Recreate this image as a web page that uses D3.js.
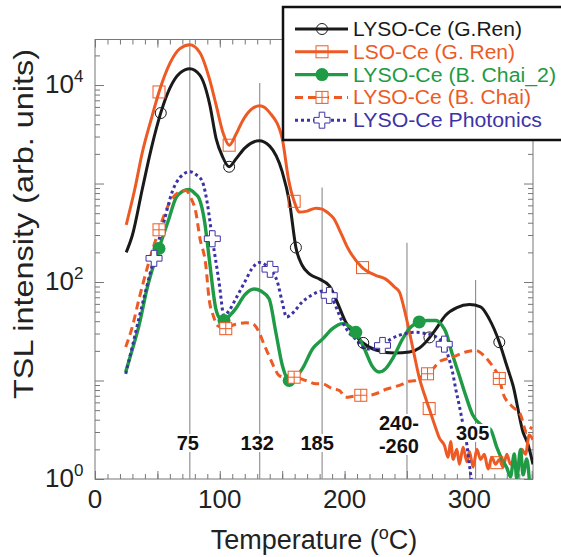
<!DOCTYPE html>
<html>
<head>
<meta charset="utf-8">
<script src="https://cdnjs.cloudflare.com/ajax/libs/d3/7.8.5/d3.min.js"></script>
<style>
  body { margin: 0; background: #fff; }
  svg { display: block; font-family: "Liberation Sans", Arial, Helvetica, sans-serif; }
</style>
</head>
<body>
<div id="chart"></div>
<script>
// TSL glow curves, temperature in °C, intensity in arb. units
const renLysoTemps = [25, 30, 38, 45, 53, 60, 68, 76, 84, 92, 97, 102, 107.5, 113, 120, 131.5, 140, 150, 156, 161, 166, 172, 180, 188, 194, 201, 208, 214, 225, 240, 252, 260, 265, 273, 281, 290, 300, 309, 316, 324, 330, 335, 343, 347, 351]
const renLysoValues = [200, 300, 890, 2240, 5370, 9300, 13200, 14600, 12600, 6300, 2880, 1900, 1480, 1780, 2290, 2720, 2400, 1320, 630, 224, 148, 120, 107, 91, 63, 39, 29.5, 24.5, 20.4, 19, 19.5, 21.4, 24.5, 33, 46, 55, 59, 56, 42, 24.5, 14.1, 8.9, 3.0, 2.24, 1.41]

const renLsoTemps = [25, 32, 38, 45, 51.3, 60, 68, 76, 84, 92, 97, 103, 107.5, 113, 118, 125, 132, 140, 150, 155, 159.6, 164, 170, 177, 182, 187, 191, 197, 202, 214, 225, 233, 240, 244, 248, 252, 256, 260, 264, 268, 272, 276, 280, 283, 285, 287, 290, 292, 295, 298, 300, 303, 306, 309, 312, 315, 318, 321, 324, 327, 330, 333, 336, 339, 342, 345, 348, 351]
const renLsoValues = [380, 890, 2090, 4470, 8510, 16600, 23400, 25700, 21400, 11200, 6310, 3160, 2450, 3160, 4270, 5620, 6170, 5250, 2880, 1120, 660, 513, 525, 562, 550, 500, 447, 316, 229, 141, 117, 107, 89, 79, 52, 31, 17.8, 10.5, 7.2, 5.1, 3.6, 2.6, 2.2, 1.66, 2.4, 1.58, 2.0, 1.41, 2.1, 1.5, 1.9, 1.32, 2.0, 1.58, 1.78, 1.26, 1.66, 1.41, 1.58, 1.32, 1.78, 1.41, 1.58, 1.26, 2.0, 1.78, 2.8, 2.5]

const chai2Temps = [24.6, 30, 35.3, 42, 51.3, 59.3, 64.7, 70, 75.4, 80, 83.4, 88, 91.4, 96.8, 100, 103.4, 108, 112.8, 120, 127.5, 133, 139.5, 144.9, 150.2, 155.6, 160, 166.2, 174.3, 182.3, 190.3, 198.3, 204, 209, 213, 217, 222, 227.7, 233, 238.4, 246.4, 252, 259.8, 266, 273.2, 278, 281.2, 286, 292, 297, 302.6, 310, 316.8, 322, 326, 330, 333, 336, 338, 341, 343, 346, 348]
const chai2Values = [12.2, 20.9, 36.3, 89, 219, 442, 708, 832, 871, 794, 708, 398, 178, 53.7, 42.7, 40.7, 45.7, 53.7, 74, 85, 81, 67.6, 30.9, 14.1, 10, 10.5, 13.2, 20.9, 26.3, 33.6, 37.8, 35.5, 30.9, 25.1, 19.5, 14.1, 12.2, 13.2, 16.6, 26.3, 33.9, 39.3, 40.7, 40.7, 36.3, 30.9, 19.1, 11.2, 7.1, 4.5, 3.5, 3.2, 2.1, 1.6, 1.3, 1.05, 1.8, 1.0, 2.0, 1.1, 1.6, 1.0]

const chaiTemps = [24.6, 30, 35.3, 42, 51.3, 56, 62, 67, 72.7, 77, 80.8, 84, 88.8, 91.4, 95, 98, 104.8, 110, 115.5, 121, 126.1, 131.5, 135, 139.5, 143, 147.6, 153, 159.6, 169, 177, 182.3, 190.3, 195.7, 201, 207, 213, 219, 225, 231, 238.4, 246, 251, 257, 262, 266.5, 271, 275.9, 282, 289.2, 297, 305.3, 311, 316, 320, 324, 327, 334, 341, 346, 350]
const chaiValues = [21.9, 35.5, 67.6, 141, 339, 501, 708, 813, 851, 708, 513, 282, 148, 67.6, 44.7, 36.3, 33.6, 36.3, 37.8, 38.5, 37.8, 30.9, 24, 17.8, 14.1, 11.2, 10.7, 10.8, 10, 9.25, 9.25, 8.24, 7.94, 6.76, 6.92, 7.08, 7.08, 7.33, 7.94, 8.51, 9.12, 9.77, 10, 11, 11.7, 13.2, 15.5, 16.6, 17.8, 19.5, 20.2, 18.2, 15.5, 13.2, 10.5, 7.4, 5.5, 4.5, 2.95, 3.4]

const photonicsTemps = [24.6, 30, 35, 41, 47.3, 55, 62, 68, 76.2, 81, 86, 90, 94, 97, 99.4, 103.4, 108, 112.8, 120, 126, 131.5, 137, 141, 146.2, 150, 153.5, 158, 166.2, 174, 182.3, 187.7, 190.3, 194, 198.3, 204, 209, 217, 224, 230.4, 237, 243.8, 250, 257.1, 264, 270.5, 276, 279.9, 283, 286.5, 289, 291.9, 294.5, 297.3, 299, 300.5, 302]
const photonicsValues = [11.7, 22.4, 41.7, 85, 174, 398, 832, 1150, 1320, 1230, 1050, 631, 275, 158, 100, 45.7, 52.5, 67.6, 100, 138, 158, 148, 132, 100, 63, 44.2, 47.9, 63, 74, 81, 73, 67.6, 52.5, 39.3, 30.2, 26.3, 20.9, 20.9, 22.7, 26.3, 28.8, 30.2, 30.9, 30.2, 28.8, 26.3, 23.4, 17.8, 12.2, 8.3, 5.6, 3.8, 2.57, 1.78, 1.26, 0.9]

// temperatures where each curve carries a symbol
const renLysoMarks = [52.7, 107.5, 161, 215, 268, 324]
const renLsoMarks = [51.3, 107.5, 159.6, 214.4, 267.8, 322]
const chai2Marks = [51.3, 103.4, 155.6, 209, 259.8]
const chaiMarks = [51.3, 104.8, 159.6, 213, 266.5, 324]
const photonicsMarks = [47.3, 94, 140.3, 187.7, 230.4, 279.9]

const seriesNames = ["LYSO-Ce (G.Ren)", "LSO-Ce (G. Ren)", "LYSO-Ce (B. Chai_2)", "LYSO-Ce (B. Chai)", "LYSO-Ce Photonics"]

// glow peaks marked in the figure
const peakTemps = [76, 132, 182, 250, 305]
const peakTops = [29000, 10500, 912, 251, 105]
const peakLabels = [["75"], ["132"], ["185"], ["240-", "-260"], ["305"]]

const xTickValues = [0, 100, 200, 300]
const yLabelExponents = [0, 2, 4]

const width = 561
const height = 557
const dims = {
  margin: { top: 39.5, left: 95 },
  boundedWidth: 438,
  boundedHeight: 439.5
}

const styles = [
  { color: "#1a1a1a", width: 3, dash: null, mark: "circleOpen" },
  { color: "#ee5a24", width: 3, dash: null, mark: "square" },
  { color: "#1f9a45", width: 3.4, dash: null, mark: "circleFilled" },
  { color: "#ee5a24", width: 3, dash: "8,5", mark: "squareCross" },
  { color: "#3d33a6", width: 3, dash: "3,3", mark: "plus" }
]
// legend text widths as drawn in the figure
const legendTextWidths = [169, 162, 203, 178, 189]

const series = [
  { temps: renLysoTemps, values: renLysoValues, marks: renLysoMarks },
  { temps: renLsoTemps, values: renLsoValues, marks: renLsoMarks },
  { temps: chai2Temps, values: chai2Values, marks: chai2Marks },
  { temps: chaiTemps, values: chaiValues, marks: chaiMarks },
  { temps: photonicsTemps, values: photonicsValues, marks: photonicsMarks }
].map((s, i) => ({ ...s, name: seriesNames[i], style: styles[i] }))

const svg = d3.select("#chart")
  .append("svg")
    .attr("width", width)
    .attr("height", height)

const bounds = svg.append("g")
  .attr("transform", `translate(${dims.margin.left}, ${dims.margin.top})`)

const xScale = d3.scaleLinear()
  .domain([0, 351])
  .range([0, dims.boundedWidth])

const yScale = d3.scaleLog()
  .domain([1, 29000])
  .range([dims.boundedHeight, 0])

svg.append("defs").append("clipPath")
    .attr("id", "plot-clip")
  .append("rect")
    .attr("width", dims.boundedWidth)
    .attr("height", dims.boundedHeight)

// axes: ticks point inward on all four sides
const axisColor = "#777"
const xMinor = d3.range(0, 351, 10)
const xMajor = d3.range(0, 351, 50)
const yMajor = d3.range(0, 5).map(e => Math.pow(10, e))
const yMinor = []
yMajor.forEach(base => d3.range(2, 10).forEach(k => { if (base * k < 29000) yMinor.push(base * k) }))

function styleAxis(g) {
  g.select(".domain").remove()
  g.selectAll(".tick line").attr("stroke", axisColor)
}

const axes = [
  [d3.axisBottom, `translate(0,${dims.boundedHeight})`, xScale, xMinor, -5],
  [d3.axisBottom, `translate(0,${dims.boundedHeight})`, xScale, xMajor, -8],
  [d3.axisTop, "translate(0,0)", xScale, xMinor, -5],
  [d3.axisTop, "translate(0,0)", xScale, xMajor, -8],
  [d3.axisLeft, "translate(0,0)", yScale, yMinor, -5],
  [d3.axisLeft, "translate(0,0)", yScale, yMajor, -9],
  [d3.axisRight, `translate(${dims.boundedWidth},0)`, yScale, yMinor, -5],
  [d3.axisRight, `translate(${dims.boundedWidth},0)`, yScale, yMajor, -9]
]
axes.forEach(([gen, tr, scale, vals, size]) => {
  bounds.append("g")
    .attr("transform", tr)
    .call(gen(scale).tickValues(vals).tickSize(size).tickSizeOuter(0).tickFormat(""))
    .call(styleAxis)
})

bounds.append("rect")
  .attr("width", dims.boundedWidth)
  .attr("height", dims.boundedHeight)
  .attr("fill", "none")
  .attr("stroke", axisColor)
  .attr("stroke-width", 1)

// tick labels
bounds.append("g")
  .selectAll("text")
  .data(xTickValues)
  .join("text")
    .attr("x", d => xScale(d))
    .attr("y", dims.boundedHeight + 29)
    .attr("text-anchor", "middle")
    .attr("font-size", 26)
    .attr("fill", "#222")
    .text(d => d)

const yLabels = bounds.append("g")
  .selectAll("text")
  .data(yLabelExponents)
  .join("text")
    .attr("x", -50)
    .attr("y", d => yScale(Math.pow(10, d)) + 8)
    .attr("font-size", 26)
    .attr("fill", "#222")
yLabels.append("tspan").text("10")
yLabels.append("tspan")
  .attr("dy", -11)
  .attr("font-size", 17)
  .text(d => d)

// axis titles
svg.append("text")
  .attr("x", dims.margin.left + 219)
  .attr("y", 549)
  .attr("text-anchor", "middle")
  .attr("font-size", 27)
  .attr("fill", "#222")
  .call(t => {
    t.append("tspan").text("Temperature (")
    t.append("tspan").attr("dy", -10).attr("font-size", 18).text("o")
    t.append("tspan").attr("dy", 10).text("C)")
  })

svg.append("text")
  .attr("transform", "translate(33, 224) rotate(-90)")
  .attr("text-anchor", "middle")
  .attr("font-size", 28)
  .attr("textLength", 350)
  .attr("lengthAdjust", "spacingAndGlyphs")
  .attr("fill", "#222")
  .text("TSL intensity (arb. units)")

// peak guide lines
bounds.append("g")
  .selectAll("line")
  .data(peakTemps)
  .join("line")
    .attr("x1", d => xScale(d))
    .attr("x2", d => xScale(d))
    .attr("y1", (d, i) => yScale(peakTops[i]))
    .attr("y2", dims.boundedHeight)
    .attr("stroke", "#8a8a8a")
    .attr("stroke-width", 1.1)

// curves
const lineGen = d3.line()
  .x(d => xScale(d.t))
  .y(d => yScale(d.v))
  .curve(d3.curveMonotoneX)

const plot = bounds.append("g").attr("clip-path", "url(#plot-clip)")

function valueAt(temps, values, t) {
  const i = d3.bisectLeft(temps, t)
  if (i <= 0) return values[0]
  if (i >= temps.length) return values[values.length - 1]
  const f = (t - temps[i - 1]) / (temps[i] - temps[i - 1])
  const a = Math.log10(values[i - 1])
  const b = Math.log10(values[i])
  return Math.pow(10, a + f * (b - a))
}

function drawMark(g, kind, color) {
  if (kind === "circleOpen") {
    g.append("circle").attr("r", 5.5).attr("fill", "none").attr("stroke", color).attr("stroke-width", 1)
  } else if (kind === "circleFilled") {
    g.append("circle").attr("r", 6.5).attr("fill", color)
  } else if (kind === "square" || kind === "squareCross") {
    g.append("rect").attr("x", -6).attr("y", -6).attr("width", 12).attr("height", 12)
      .attr("fill", kind === "squareCross" ? "#fff" : "none").attr("stroke", color).attr("stroke-width", 1)
    if (kind === "squareCross") {
      g.append("path").attr("d", "M-6,0H6M0,-6V6").attr("stroke", color).attr("stroke-width", 1)
    }
  } else if (kind === "plus") {
    const a = 2.8, s = 8
    g.append("path")
      .attr("d", `M${-a},${-s}H${a}V${-a}H${s}V${a}H${a}V${s}H${-a}V${a}H${-s}V${-a}H${-a}Z`)
      .attr("fill", "#fff").attr("stroke", color).attr("stroke-width", 1)
  }
}

series.forEach(s => {
  const pts = s.temps.map((t, i) => ({ t, v: s.values[i] }))
  plot.append("path")
    .datum(pts)
    .attr("d", lineGen)
    .attr("fill", "none")
    .attr("stroke", s.style.color)
    .attr("stroke-width", s.style.width)
    .attr("stroke-dasharray", s.style.dash)
    .attr("stroke-linejoin", "round")
})

series.forEach(s => {
  s.marks.forEach(t => {
    const g = plot.append("g")
      .attr("transform", `translate(${xScale(t)}, ${yScale(valueAt(s.temps, s.values, t))})`)
    drawMark(g, s.style.mark, s.style.color)
  })
})

// peak labels with white backing
const labelShift = [-2, -2.5, -5, -8, -3]
const labelBase = [450, 450, 450, 430, 440]
peakTemps.forEach((t, i) => {
  const g = bounds.append("g")
  const cx = xScale(t) + labelShift[i]
  const txt = g.append("text")
    .attr("text-anchor", "middle")
    .attr("font-size", 20)
    .attr("font-weight", "bold")
    .attr("fill", "#111")
  peakLabels[i].forEach((line, k) => {
    txt.append("tspan")
      .attr("x", cx)
      .attr("y", labelBase[i] - dims.margin.top + k * 23)
      .text(line)
  })
  const bb = txt.node().getBBox()
  g.insert("rect", "text")
    .attr("x", bb.x - 1)
    .attr("y", bb.y + 2)
    .attr("width", bb.width + 2)
    .attr("height", bb.height - 4)
    .attr("fill", "#fff")
})

// legend
const legend = svg.append("g")
legend.append("rect")
  .attr("x", 283)
  .attr("y", 7)
  .attr("width", 300)
  .attr("height", 133)
  .attr("fill", "#fff")
  .attr("stroke", "#111")
  .attr("stroke-width", 2.5)

series.forEach((s, i) => {
  const cy = 29 + i * 22.8
  const row = legend.append("g").attr("transform", `translate(0, ${cy})`)
  row.append("line")
    .attr("x1", 295)
    .attr("x2", 348)
    .attr("stroke", s.style.color)
    .attr("stroke-width", s.style.width)
    .attr("stroke-dasharray", s.style.dash)
  const m = row.append("g").attr("transform", "translate(322, 0)")
  drawMark(m, s.style.mark, s.style.color)
  row.append("text")
    .attr("x", 353)
    .attr("y", 7)
    .attr("font-size", 20)
    .attr("textLength", legendTextWidths[i])
    .attr("lengthAdjust", "spacingAndGlyphs")
    .attr("fill", s.style.color)
    .text(s.name)
})
</script>
</body>
</html>
